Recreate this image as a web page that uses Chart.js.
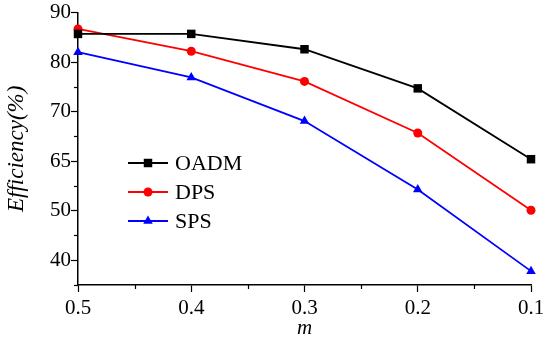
<!DOCTYPE html>
<html>
<head>
<meta charset="utf-8">
<script src="https://cdn.jsdelivr.net/npm/chart.js@4.4.1/dist/chart.umd.min.js"></script>
<style>
  html, body { margin: 0; padding: 0; background: #fff; }
  .chart-container { position: relative; width: 550px; height: 337px; }
</style>
</head>
<body>
<div class="chart-container">
  <canvas id="myChart" width="550" height="337"></canvas>
</div>
<script>
// --- dados ---
var mValues = [0.5, 0.4, 0.3, 0.2, 0.1];
var oadm = [85.7, 85.7, 82.6, 74.7, 60.4];
var dps = [86.7, 82.2, 76.1, 65.7, 50.1];
var sps = [82.0, 76.9, 68.1, 54.3, 37.8];
var xTickValues = [0.5, 0.4, 0.3, 0.2, 0.1];
var yTickValues = [40, 50, 60, 70, 80, 90];
var yTickLabels = ['40', '50', '65', '70', '80', '90']; // como aparece na figura

var serif = "'Liberation Serif', 'DejaVu Serif', serif";

function toPoints(arr) {
  return mValues.map(function (m, i) { return { x: m, y: arr[i] }; });
}

// ticks menores (meio caminho) + legenda dentro da area
var extrasPlugin = {
  id: 'extras',
  afterDraw: function (chart) {
    var ctx = chart.ctx;
    var xs = chart.scales.x, ys = chart.scales.y;
    ctx.save();
    ctx.strokeStyle = '#000';
    ctx.lineWidth = 1.2;
    // ticks menores
    for (var i = 0; i < xTickValues.length - 1; i++) {
      var mv = (xTickValues[i] + xTickValues[i + 1]) / 2;
      var px = Math.round(xs.getPixelForValue(mv)) + 0.5;
      ctx.beginPath();
      ctx.moveTo(px, ys.bottom);
      ctx.lineTo(px, ys.bottom + 4);
      ctx.stroke();
    }
    for (var j = 0; j < yTickValues.length; j++) {
      var yv = yTickValues[j] - 5;
      if (yv < ys.min) continue;
      var py = Math.round(ys.getPixelForValue(yv)) + 0.5;
      ctx.beginPath();
      ctx.moveTo(xs.left, py);
      ctx.lineTo(xs.left - 4, py);
      ctx.stroke();
    }
    // legenda
    var lx = 128, ly = 163, gap = 29;
    ctx.font = '22px ' + serif;
    ctx.textBaseline = 'middle';
    chart.data.datasets.forEach(function (ds, k) {
      var y = ly + k * gap;
      ctx.strokeStyle = ds.borderColor;
      ctx.lineWidth = ds.borderWidth;
      ctx.beginPath();
      ctx.moveTo(lx, y);
      ctx.lineTo(lx + 40, y);
      ctx.stroke();
      ctx.fillStyle = ds.backgroundColor;
      Chart.helpers.drawPoint(ctx, {
        pointStyle: ds.pointStyle, radius: ds.pointRadius, borderWidth: 0
      }, lx + 20, y);
      ctx.fillStyle = '#000';
      ctx.fillText(ds.label, lx + 47, y + 1);
    });
    ctx.restore();
  }
};

var ctx = document.getElementById('myChart').getContext('2d');

var chartInstance = new Chart(ctx, {
  type: 'line',
  data: {
    datasets: [
      {
        label: 'OADM',
        data: toPoints(oadm),
        borderColor: '#000',
        backgroundColor: '#000',
        pointStyle: 'rect',
        pointRadius: 6,
        borderWidth: 1.8,
        pointBorderWidth: 0
      },
      {
        label: 'DPS',
        data: toPoints(dps),
        borderColor: '#ff0000',
        backgroundColor: '#ff0000',
        pointStyle: 'circle',
        pointRadius: 4.5,
        borderWidth: 1.8,
        pointBorderWidth: 0
      },
      {
        label: 'SPS',
        data: toPoints(sps),
        borderColor: '#0000ff',
        backgroundColor: '#0000ff',
        pointStyle: 'triangle',
        pointRadius: 5.5,
        borderWidth: 1.8,
        pointBorderWidth: 0
      }
    ]
  },
  options: {
    responsive: false,
    animation: false,
    clip: false,
    layout: { padding: { top: 11, right: 19, left: 0, bottom: 0 } },
    plugins: {
      legend: { display: false },
      tooltip: { enabled: false }
    },
    scales: {
      x: {
        type: 'linear',
        reverse: true,
        min: 0.1,
        max: 0.5,
        afterBuildTicks: function (scale) {
          scale.ticks = xTickValues.map(function (v) { return { value: v }; });
        },
        afterFit: function (scale) { scale.height = 52; },
        ticks: {
          color: '#000',
          font: { family: serif, size: 21 },
          padding: 4,
          maxRotation: 0,
          callback: function (v) { return String(v); }
        },
        grid: {
          drawOnChartArea: false,
          drawTicks: true,
          tickLength: 7,
          tickWidth: 1.2,
          color: '#000'
        },
        border: { color: '#000', width: 1.5 },
        title: {
          display: true,
          text: 'm',
          color: '#000',
          font: { family: serif, size: 21, style: 'italic' },
          padding: { top: 0, bottom: -4 }
        }
      },
      y: {
        type: 'linear',
        min: 35,
        max: 90,
        afterBuildTicks: function (scale) {
          scale.ticks = yTickValues.map(function (v) { return { value: v }; });
        },
        afterFit: function (scale) { scale.width = 78; },
        ticks: {
          color: '#000',
          font: { family: serif, size: 21 },
          padding: 0,
          callback: function (v) {
            var idx = yTickValues.indexOf(v);
            return idx >= 0 ? yTickLabels[idx] : '';
          }
        },
        grid: {
          drawOnChartArea: false,
          drawTicks: true,
          tickLength: 7,
          tickWidth: 1.2,
          color: '#000'
        },
        border: { color: '#000', width: 1.5 },
        title: {
          display: true,
          text: 'Efficiency(%)',
          color: '#000',
          font: { family: serif, size: 23, style: 'italic' },
          padding: { top: 3, bottom: 0 }
        }
      }
    }
  },
  plugins: [extrasPlugin]
});
</script>
</body>
</html>
